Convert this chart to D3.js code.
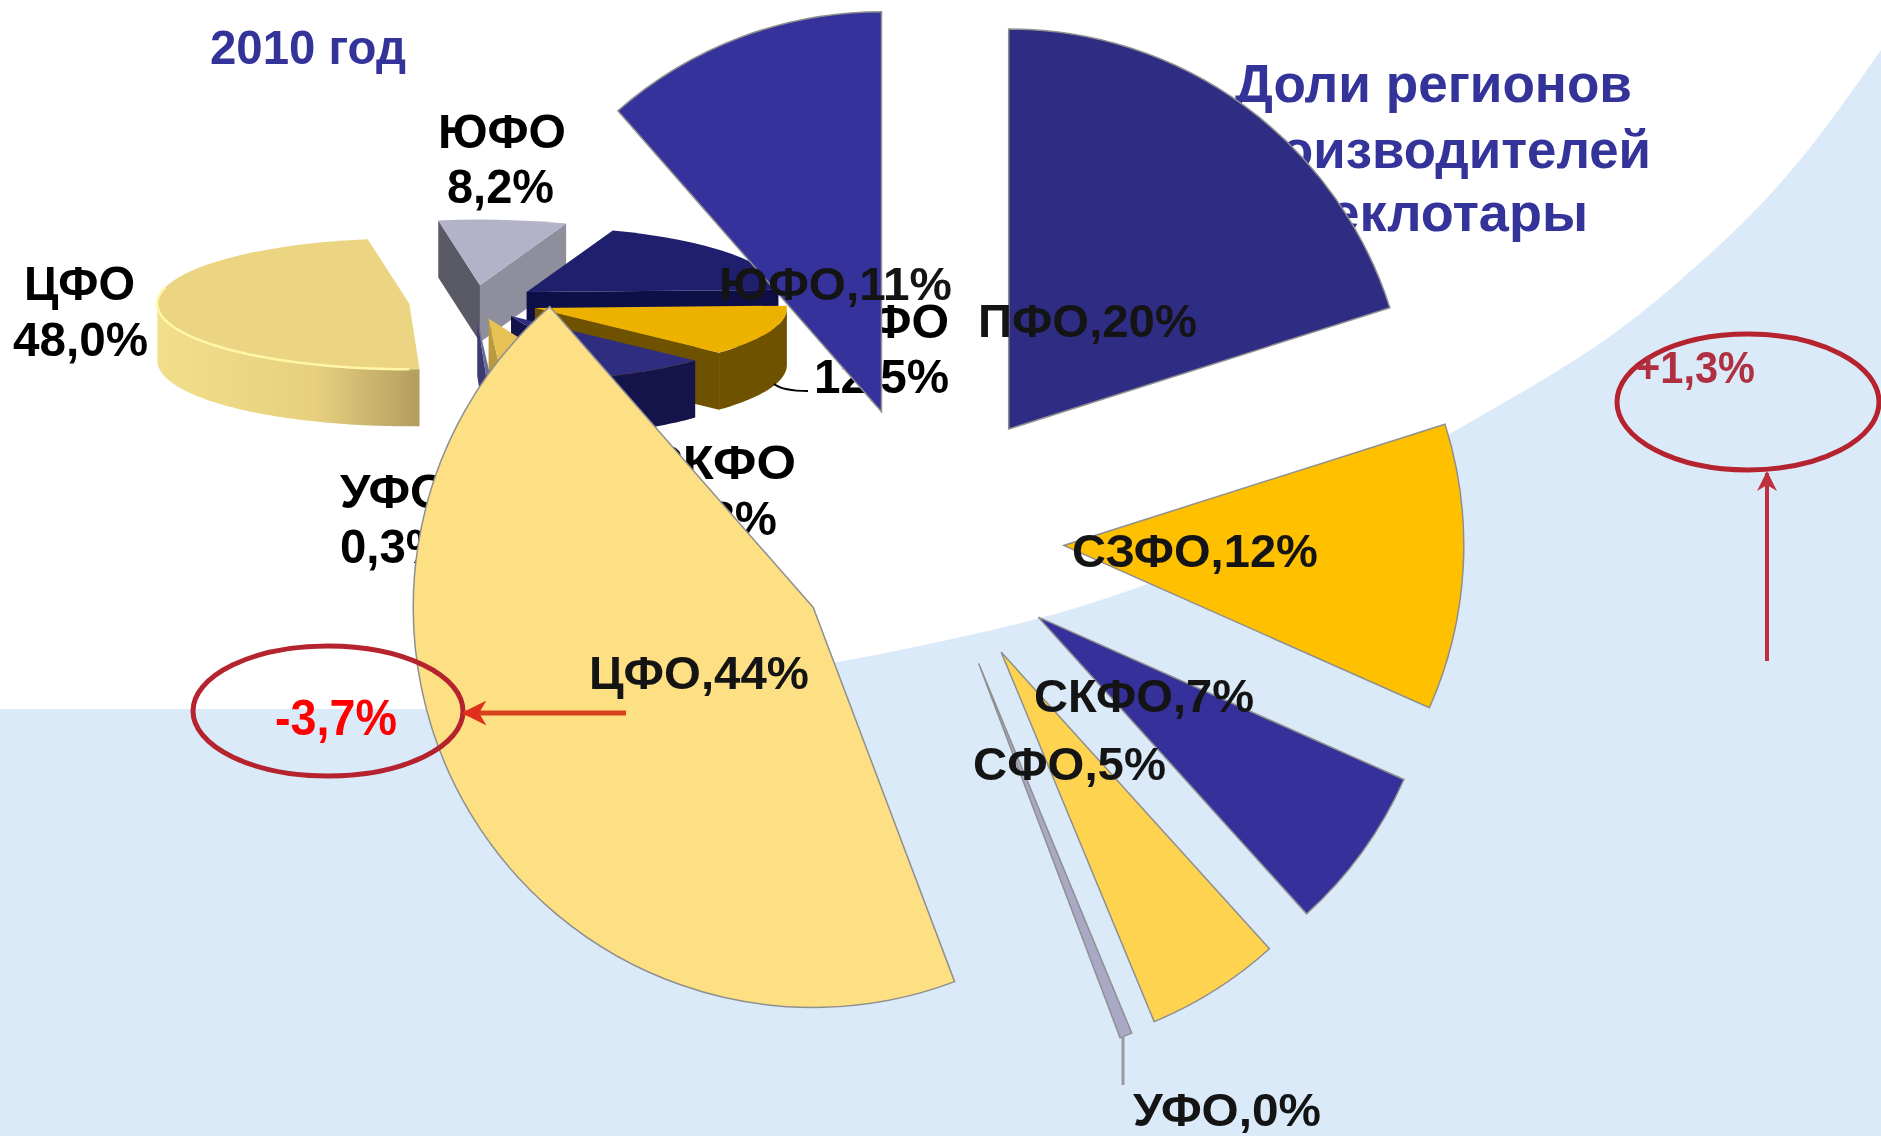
<!DOCTYPE html>
<html>
<head>
<meta charset="utf-8">
<title>Доли регионов производителей стеклотары</title>
<script src="https://cdn.jsdelivr.net/npm/d3@7"></script>
<style>
  html, body { margin: 0; padding: 0; background: #fff; }
  svg { display: block; filter: blur(0.6px); }
  text { font-family: "Liberation Sans", Arial, sans-serif; font-weight: bold; }
</style>
</head>
<body>
<div id="chart"></div>
<script>
// big exploded pie (current year)
var regions = ["ПФО", "СЗФО", "СКФО", "СФО", "УФО", "ЦФО", "ЮФО"];
var shareNow = [20.1, 11.55, 6.65, 5.45, 0.5, 44.3, 11.45];
var labelsNow = ["ПФО,20%", "СЗФО,12%", "СКФО,7%", "СФО,5%", "УФО,0%", "ЦФО,44%", "ЮФО,11%"];

// small 3d pie (2010)
var share2010 = [18.9, 12.5, 6.8, 5.3, 0.3, 48.0, 8.2];
var labels2010 = ["", "12,5%", "6,8%", "5,3%", "0,3%", "48,0%", "8,2%"];

var colorsNow = ["#2e2d83", "#ffc000", "#35309a", "#fdd34f", "#a9a9c6", "#fce083", "#35329b"];
var colorsTop = ["#1f1f6e", "#edb200", "#2e2d80", "#e8c155", "#6a6a9a", "#ecd582", "#b2b2c8"];
var colorsSide = ["#0f0f47", "#6e5200", "#15144a", "#bb9a3e", "#3b3b70", "#e4cd7c", "#8e8e9c"];

var width = 1881, height = 1136;
var svg = d3.select("#chart").append("svg")
    .attr("width", width)
    .attr("height", height);

var defs = svg.append("defs");
var wallGrad = defs.append("linearGradient")
    .attr("id", "wall-cfo")
    .attr("gradientUnits", "userSpaceOnUse")
    .attr("x1", 156).attr("x2", 422).attr("y1", 0).attr("y2", 0);
wallGrad.append("stop").attr("offset", "0").attr("stop-color", "#f3df8a");
wallGrad.append("stop").attr("offset", "0.6").attr("stop-color", "#e6d07f");
wallGrad.append("stop").attr("offset", "1").attr("stop-color", "#b29c5e");

// background: light blue with the white swoosh on top
svg.append("rect")
    .attr("width", width)
    .attr("height", height)
    .attr("fill", "#dbeaf8");

var swoosh = [[0, 709], [420, 709], [620, 693], [838, 662], [900, 650], [1107, 598],
    [1300, 518], [1443, 438], [1663, 295], [1800, 160], [1881, 50]];
svg.append("path")
    .attr("d", d3.line().curve(d3.curveMonotoneX)(swoosh) + "L1881,0L0,0Z")
    .attr("fill", "#fff");

// places text so it covers the same width as the (slightly stretched) original
function putText(g, str, x, y, size, len, fill) {
    return g.append("text")
        .attr("x", x)
        .attr("y", y)
        .attr("font-size", size + "px")
        .attr("textLength", len)
        .attr("lengthAdjust", "spacingAndGlyphs")
        .attr("fill", fill)
        .text(str);
}

putText(svg, "2010 год", 210, 64, 48, 196, "#333399");
putText(svg, "Доли регионов", 1235, 102, 54, 397, "#333399");
putText(svg, "производителей", 1217, 168, 54, 434, "#333399");
putText(svg, "стеклотары", 1273, 231, 54, 315, "#333399");

// ---- small 3d pie ----
var cx3d = 474, cy3d = 302, rx3d = 252, squash = 0.26, depth = 57, explode3d = 65;
var startAngle3d = 20 * Math.PI / 180;

var pie3d = d3.pie().sort(null).value(function(d) { return d; })
    .startAngle(startAngle3d)
    .endAngle(startAngle3d + 2 * Math.PI);

var arcs3d = pie3d(share2010).map(function(a, i) {
    a.region = regions[i];
    a.top = colorsTop[i];
    a.side = colorsSide[i];
    var mid = (a.startAngle + a.endAngle) / 2;
    a.ox = cx3d + explode3d * Math.sin(mid);
    a.oy = cy3d - explode3d * squash * Math.cos(mid);
    return a;
});

function pt(a, t, dy) {
    return [a.ox + rx3d * Math.sin(t), a.oy - rx3d * squash * Math.cos(t) + (dy || 0)];
}

var polyLine = d3.line();
var arc3d = d3.arc().innerRadius(0).outerRadius(rx3d);

// drawing order back to front, same as the apex heights in the picture
var order3d = ["ЦФО", "ЮФО", "ПФО", "СЗФО", "СКФО", "СФО", "УФО"];
var pie3dG = svg.append("g");

order3d.forEach(function(name) {
    var a = arcs3d.filter(function(d) { return d.region === name; })[0];
    var g = pie3dG.append("g");

    // end cut wall, only when it faces the viewer
    if (Math.sin(a.endAngle) > 0) {
        var e = pt(a, a.endAngle), e2 = pt(a, a.endAngle, depth);
        g.append("path")
            .attr("d", polyLine([[a.ox, a.oy], e, e2, [a.ox, a.oy + depth]]) + "Z")
            .attr("fill", a.side);
    }
    // start cut wall
    if (Math.sin(a.startAngle) < 0) {
        var s = pt(a, a.startAngle), s2 = pt(a, a.startAngle, depth);
        g.append("path")
            .attr("d", polyLine([[a.ox, a.oy], s, s2, [a.ox, a.oy + depth]]) + "Z")
            .attr("fill", name === "ЮФО" ? "#5a5a66" : a.side);
    }
    // outer wall, front half only
    var t0 = Math.max(a.startAngle, Math.PI / 2), t1 = Math.min(a.endAngle, 3 * Math.PI / 2);
    if (t1 > t0) {
        var ts = d3.range(t0, t1, 0.02).concat([t1]);
        var upper = ts.map(function(t) { return pt(a, t); });
        var lower = ts.slice().reverse().map(function(t) { return pt(a, t, depth); });
        g.append("path")
            .attr("d", polyLine(upper.concat(lower)) + "Z")
            .attr("fill", name === "ЦФО" ? "url(#wall-cfo)" : a.side);
    }
    // top face
    g.append("path")
        .attr("transform", "translate(" + a.ox + "," + a.oy + ") scale(1," + squash + ")")
        .attr("d", arc3d(a))
        .attr("fill", a.top);

    // light rim on the big slice
    if (name === "ЦФО") {
        var rim = d3.range(Math.PI, 3 * Math.PI / 2 + 0.25, 0.02).map(function(t) { return pt(a, t); });
        g.append("path")
            .attr("d", polyLine(rim))
            .attr("fill", "none")
            .attr("stroke", "#fff6a8")
            .attr("stroke-width", 2.5);
    }
});

// 2010 labels sit under the big pie, it covers some of them
var labels3d = svg.append("g").attr("fill", "#000");
putText(labels3d, "ЮФО", 438, 148, 48, 128, "#000");
putText(labels3d, labels2010[6], 447, 203, 48, 107, "#000");
putText(labels3d, "ЦФО", 24, 300, 48, 111, "#000");
putText(labels3d, labels2010[5], 13, 356, 48, 135, "#000");
putText(labels3d, "СЗФО", 807, 338, 48, 142, "#000");
putText(labels3d, labels2010[1], 814, 393, 48, 135, "#000");
putText(labels3d, "СКФО", 646, 479, 48, 150, "#000");
putText(labels3d, labels2010[2], 669, 535, 48, 108, "#000");
putText(labels3d, "УФО", 340, 508, 48, 108, "#000");
putText(labels3d, labels2010[4], 340, 563, 48, 108, "#000");

labels3d.append("path")
    .attr("d", "M774,384C782,390 795,391 808,391")
    .attr("fill", "none")
    .attr("stroke", "#000")
    .attr("stroke-width", 2);

// ---- big exploded pie ----
var cx = 929, cy = 538, radius = 400, explode = 135;

var pie = d3.pie().sort(null).value(function(d) { return d; });
var arc = d3.arc().innerRadius(0).outerRadius(radius);

var bigG = svg.append("g").attr("transform", "translate(" + cx + "," + cy + ")");

bigG.selectAll("path")
    .data(pie(shareNow))
    .enter()
    .append("path")
    .attr("d", arc)
    .attr("transform", function(d) {
        var mid = (d.startAngle + d.endAngle) / 2;
        return "translate(" + (explode * Math.sin(mid)) + "," + (-explode * Math.cos(mid)) + ")";
    })
    .attr("fill", function(d, i) { return colorsNow[i]; })
    .attr("stroke", "#8f8f8f")
    .attr("stroke-width", 1.5);

// leader of the thin slice
svg.append("line")
    .attr("x1", 1123).attr("y1", 1036)
    .attr("x2", 1123).attr("y2", 1085)
    .attr("stroke", "#9a9aa4")
    .attr("stroke-width", 3);

var textDark = "#141414";
putText(svg, labelsNow[0], 978, 337, 47, 219, textDark);
putText(svg, labelsNow[6], 719, 300, 47, 233, textDark);
putText(svg, labelsNow[1], 1072, 567, 47, 246, textDark);
putText(svg, labelsNow[2], 1034, 712, 47, 220, textDark);
putText(svg, labelsNow[3], 973, 780, 47, 193, textDark);
putText(svg, labelsNow[4], 1133, 1126, 46, 188, textDark);
putText(svg, labelsNow[5], 589, 689, 47, 220, textDark);

// ---- change annotations ----
function arrowHead(id, color) {
    defs.append("marker")
        .attr("id", id)
        .attr("viewBox", "0 0 10 10")
        .attr("refX", 9).attr("refY", 5)
        .attr("markerWidth", 5).attr("markerHeight", 5)
        .attr("orient", "auto")
        .append("path")
        .attr("d", "M0,0L10,5L0,10L3,5Z")
        .attr("fill", color);
}
arrowHead("head-red", "#e0301c");
arrowHead("head-dark", "#c0303c");

svg.append("ellipse")
    .attr("cx", 328).attr("cy", 711).attr("rx", 135).attr("ry", 65)
    .attr("fill", "none").attr("stroke", "#b5232e").attr("stroke-width", 5);
putText(svg, "-3,7%", 275, 735, 50, 122, "#ff0000");
svg.append("line")
    .attr("x1", 626).attr("y1", 713).attr("x2", 464).attr("y2", 713)
    .attr("stroke", "#d9401c").attr("stroke-width", 5)
    .attr("marker-end", "url(#head-red)");

svg.append("ellipse")
    .attr("cx", 1748).attr("cy", 402).attr("rx", 131).attr("ry", 68)
    .attr("fill", "none").attr("stroke", "#b5232e").attr("stroke-width", 5);
putText(svg, "+1,3%", 1636, 383, 44, 119, "#b03040");
svg.append("line")
    .attr("x1", 1767).attr("y1", 661).attr("x2", 1767).attr("y2", 473)
    .attr("stroke", "#c0303c").attr("stroke-width", 4)
    .attr("marker-end", "url(#head-dark)");
</script>
</body>
</html>
